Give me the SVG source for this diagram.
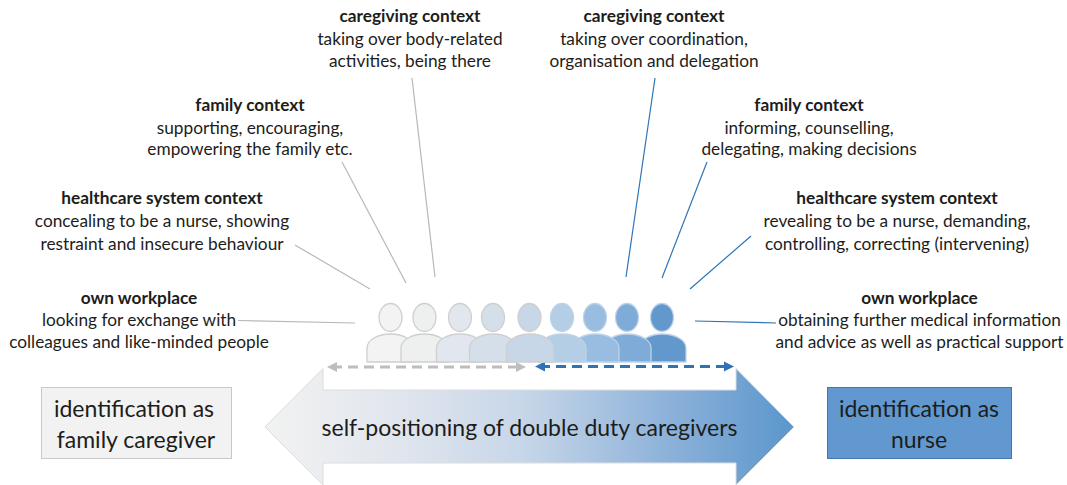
<svg xmlns="http://www.w3.org/2000/svg" width="1067" height="485" viewBox="0 0 1067 485">
<style>
text{font-family:Lato,"Carlito","Open Sans","Liberation Sans",sans-serif;fill:#1d1d1b;font-size:17.25px;text-anchor:middle}
.b{font-weight:700}
.big{font-size:23px}
.g{stroke:#b8b8b8;stroke-width:1.2;fill:none}
.c{stroke:#2e75b6;stroke-width:1.2;fill:none}
.dg{stroke:#bdbdbd;stroke-width:2.8;stroke-dasharray:10 6;fill:none;marker-start:url(#ag);marker-end:url(#ag)}
.db{stroke:#2f72b5;stroke-width:2.8;stroke-dasharray:10 6;fill:none;marker-start:url(#ab);marker-end:url(#ab)}
.s1{stroke:#cfcfcf;stroke-width:1.3}
.s2{stroke:#bcd3ea;stroke-width:1.3}
</style>
<defs>
<linearGradient id="grad" x1="265" x2="794" y1="0" y2="0" gradientUnits="userSpaceOnUse">
<stop offset="0" stop-color="#f2f2f2"/><stop offset="0.25" stop-color="#e1e6ee"/><stop offset="0.5" stop-color="#c5d5e8"/><stop offset="0.75" stop-color="#8fb3da"/><stop offset="1" stop-color="#5b96cc"/>
</linearGradient>
<marker id="ag" markerUnits="userSpaceOnUse" markerWidth="12" markerHeight="12" refX="5" refY="6" orient="auto-start-reverse"><path d="M0 1L10 6L0 11Z" fill="#bdbdbd"/></marker>
<marker id="ab" markerUnits="userSpaceOnUse" markerWidth="12" markerHeight="12" refX="5" refY="6" orient="auto-start-reverse"><path d="M0 1L10 6L0 11Z" fill="#2f72b5"/></marker>
<path id="body" d="M0 28V14C0 6 11 0 23.500 0S47 6 47 14V28Z"/>
</defs>

<g id="connectors">
<path class="g" d="M238 320.500L355 323"/>
<path class="g" d="M295 245L370 289"/>
<path class="g" d="M342 162L406 283"/>
<path class="g" d="M412 78L435 277"/>
<path class="c" d="M655 78L626 277"/>
<path class="c" d="M707 162L662 278"/>
<path class="c" d="M751 236L690 289"/>
<path class="c" d="M695 321L776 323"/>
<path class="dg" d="M332 367H521"/>
<path class="db" d="M540 366.500H729"/>
</g>

<g id="people">
<g id="person-9"><ellipse cx="662" cy="317.500" rx="11.500" ry="14" fill="#6398cc" class="s2"/><use href="#body" x="639" y="334" fill="#6398cc" class="s2"/></g>
<g id="person-8"><ellipse cx="627" cy="317.500" rx="11.500" ry="14" fill="#7eabd8" class="s2"/><use href="#body" x="604" y="334" fill="#7eabd8" class="s2"/></g>
<g id="person-7"><ellipse cx="595" cy="317.500" rx="11.500" ry="14" fill="#98bde0" class="s2"/><use href="#body" x="572" y="334" fill="#98bde0" class="s2"/></g>
<g id="person-6"><ellipse cx="562" cy="317.500" rx="11.500" ry="14" fill="#b4cee6" class="s2"/><use href="#body" x="539" y="334" fill="#b4cee6" class="s2"/></g>
<g id="person-1"><ellipse cx="390.500" cy="317.500" rx="11.500" ry="14" fill="#f3f3f3" class="s1"/><use href="#body" x="367" y="334" fill="#f3f3f3" class="s1"/></g>
<g id="person-2"><ellipse cx="424.500" cy="317.500" rx="11.500" ry="14" fill="#eef0f0" class="s1"/><use href="#body" x="401" y="334" fill="#eef0f0" class="s1"/></g>
<g id="person-3"><ellipse cx="460" cy="317.500" rx="11.500" ry="14" fill="#e2e7ef" class="s1"/><use href="#body" x="436.500" y="334" fill="#e2e7ef" class="s1"/></g>
<g id="person-4"><ellipse cx="493" cy="317.500" rx="11.500" ry="14" fill="#d5dfe9" class="s1"/><use href="#body" x="469.500" y="334" fill="#d5dfe9" class="s1"/></g>
<g id="person-5"><ellipse cx="529.500" cy="317.500" rx="11.500" ry="14" fill="#c7d7e8" class="s1"/><use href="#body" x="506.500" y="334" fill="#c7d7e8" class="s1"/></g>
</g>

<g id="arrow">
<path d="M265 427L323 368.500V390H736V368.500L794 427L736 485V463H323V485Z" fill="url(#grad)" stroke="#dcdcdc" stroke-width="1"/>
<text class="big" x="529.500" y="435.500">self-positioning of double duty caregivers</text>
</g>

<g id="family-box">
<rect x="41.500" y="387.500" width="190" height="71" fill="#f2f2f2" stroke="#c8c8c8"/>
<text class="big" x="134" y="416.500">identification as</text>
<text class="big" x="136" y="447.500">family caregiver</text>
</g>
<g id="nurse-box">
<rect x="827.500" y="387.500" width="184" height="71" fill="#6098cf" stroke="#3f78b0"/>
<text class="big" x="919" y="416.500">identification as</text>
<text class="big" x="919" y="447.500">nurse</text>
</g>

<g id="left-caregiving"><text class="b" x="410" y="22">caregiving context</text><text x="410" y="44.500">taking over body-related</text><text x="410" y="66.500">activities, being there</text></g>
<g id="left-family"><text class="b" x="250" y="111">family context</text><text x="250" y="133.500">supporting, encouraging,</text><text x="250" y="154.500">empowering the family etc.</text></g>
<g id="left-healthcare"><text class="b" x="162" y="203.500">healthcare system context</text><text x="162" y="226.500">concealing to be a nurse, showing</text><text x="162" y="249.500">restraint and insecure behaviour</text></g>
<g id="left-workplace"><text class="b" x="139" y="303.500">own workplace</text><text x="139" y="325.500">looking for exchange with</text><text x="139" y="347.500">colleagues and like-minded people</text></g>
<g id="right-caregiving"><text class="b" x="654" y="22">caregiving context</text><text x="654" y="44.500">taking over coordination,</text><text x="654" y="66.500">organisation and delegation</text></g>
<g id="right-family"><text class="b" x="809" y="111">family context</text><text x="809" y="133.500">informing, counselling,</text><text x="809" y="154.500">delegating, making decisions</text></g>
<g id="right-healthcare"><text class="b" x="897" y="203.500">healthcare system context</text><text x="897" y="226.500">revealing to be a nurse, demanding,</text><text x="897" y="249.500">controlling, correcting (intervening)</text></g>
<g id="right-workplace"><text class="b" x="919.500" y="303.500">own workplace</text><text x="919.500" y="325.500">obtaining further medical information</text><text x="919.500" y="347.500">and advice as well as practical support</text></g>
</svg>
